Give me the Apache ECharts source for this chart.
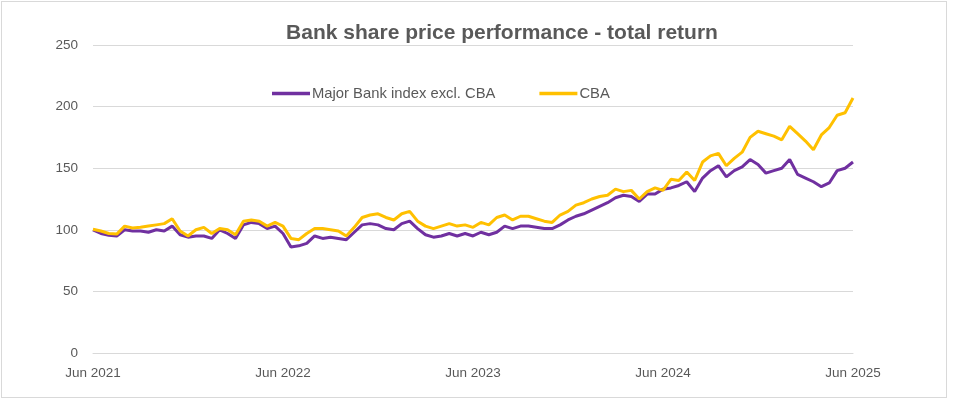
<!DOCTYPE html>
<html>
<head>
<meta charset="utf-8">
<script src="https://cdn.jsdelivr.net/npm/echarts@6/dist/echarts.min.js"></script>
<style>
html,body{margin:0;padding:0;background:#fff;}
#frame{position:absolute;left:1px;top:1px;width:946px;height:397px;border:1px solid #d9d9d9;box-sizing:border-box;}
#chart{position:absolute;left:0;top:0;width:953px;height:405px;}
</style>
</head>
<body>
<div id="frame"></div>
<div id="chart"></div>
<script>
// Half-monthly observation dates, Jun 2021 – Jun 2025
const dates = [];
for (let y = 2021; y <= 2025; y++) {
  for (let m = 1; m <= 12; m++) {
    if ((y === 2021 && m < 6) || (y === 2025 && m > 6)) continue;
    const mm = String(m).padStart(2, '0');
    dates.push(y + '-' + mm + '-01');
    if (!(y === 2025 && m === 6)) dates.push(y + '-' + mm + '-16');
  }
}
const monthNames = ['Jan','Feb','Mar','Apr','May','Jun','Jul','Aug','Sep','Oct','Nov','Dec'];

const majorBankExCBA = [
  100, 97, 95.5, 95, 100, 99, 99, 98, 100, 99,
  103, 96, 94, 95, 95, 93, 100, 97, 93, 104,
  106, 105, 101, 103, 97, 86, 87, 89, 95, 93,
  94, 93, 92, 98, 104, 105, 104, 101, 100, 105,
  107, 101, 96, 94, 95, 97, 95, 97, 95, 98,
  96, 98, 103, 101, 103, 103, 102, 101, 101, 104,
  108, 111, 113, 116, 119, 122, 126, 128, 127, 123,
  129, 129, 133, 134, 136, 139, 131, 142, 148, 152,
  143, 148, 151, 157, 153, 146, 148, 150, 157, 145,
  142, 139, 135, 138, 148, 150, 155
];

const cba = [
  100.5, 99, 97, 96.5, 103, 101.5, 102, 103, 104, 105,
  109, 99, 95, 100, 102, 97, 101, 100, 96, 107,
  108, 107, 103, 106, 103, 93, 92, 97, 101, 101,
  100, 99, 95, 102, 110, 112, 113, 110, 108, 113,
  115, 107, 103, 101, 103, 105, 103, 104, 102, 106,
  104, 110, 112, 108, 111, 111, 109, 107, 106, 112,
  115, 120, 122, 125, 127, 128, 133, 131, 132, 125,
  131, 134, 132, 141, 140, 147, 140, 155, 160, 162,
  152, 158, 163, 175, 180, 178, 176, 173, 184, 178,
  172, 165, 177, 183, 193, 195, 207
];

const yTicks = { min: 0, max: 250, interval: 50 };
const labelFont = "'Liberation Sans',Arial,sans-serif";

const chart = echarts.init(document.getElementById('chart'));
chart.setOption({
  animation: false,
  backgroundColor: 'transparent',
  title: {
    text: 'Bank share price performance - total return',
    left: 497, top: 18, textAlign: 'center',
    textStyle: { fontFamily: labelFont, fontSize: 21, fontWeight: 'bold', color: '#595959' }
  },
  legend: {
    top: 81, left: 267, itemGap: 44,
    icon: 'rect', itemWidth: 38, itemHeight: 3.5,
    textStyle: { fontFamily: labelFont, fontSize: 14.8, color: '#595959', padding: [0,0,0,-3] },
    data: ['Major Bank index excl. CBA', 'CBA']
  },
  grid: { left: 93, right: 100, top: 45, bottom: 52, containLabel: false },
  xAxis: {
    type: 'category', data: dates, boundaryGap: false,
    axisLine: { show: true, lineStyle: { color: '#d9d9d9', width: 1 } },
    axisTick: { show: false },
    axisLabel: {
      interval: function (i) { return i % 24 === 0; },
      formatter: function (v) { const p = v.split('-'); return monthNames[+p[1]-1] + ' ' + p[0]; },
      fontFamily: labelFont, fontSize: 13.5, color: '#595959', margin: 13
    },
    splitLine: { show: false }
  },
  yAxis: {
    type: 'value', min: yTicks.min, max: yTicks.max, interval: yTicks.interval,
    axisLine: { show: false }, axisTick: { show: false },
    axisLabel: { fontFamily: labelFont, fontSize: 13.5, color: '#595959', margin: 15 },
    splitLine: { lineStyle: { color: '#d9d9d9', width: 1 } }
  },
  series: [
    { name: 'Major Bank index excl. CBA', type: 'line', data: majorBankExCBA, showSymbol: false,
      lineStyle: { color: '#7030A0', width: 3 }, itemStyle: { color: '#7030A0' }, z: 2 },
    { name: 'CBA', type: 'line', data: cba, showSymbol: false,
      lineStyle: { color: '#FFC000', width: 3 }, itemStyle: { color: '#FFC000' }, z: 3 }
  ]
});
</script>
</body>
</html>
